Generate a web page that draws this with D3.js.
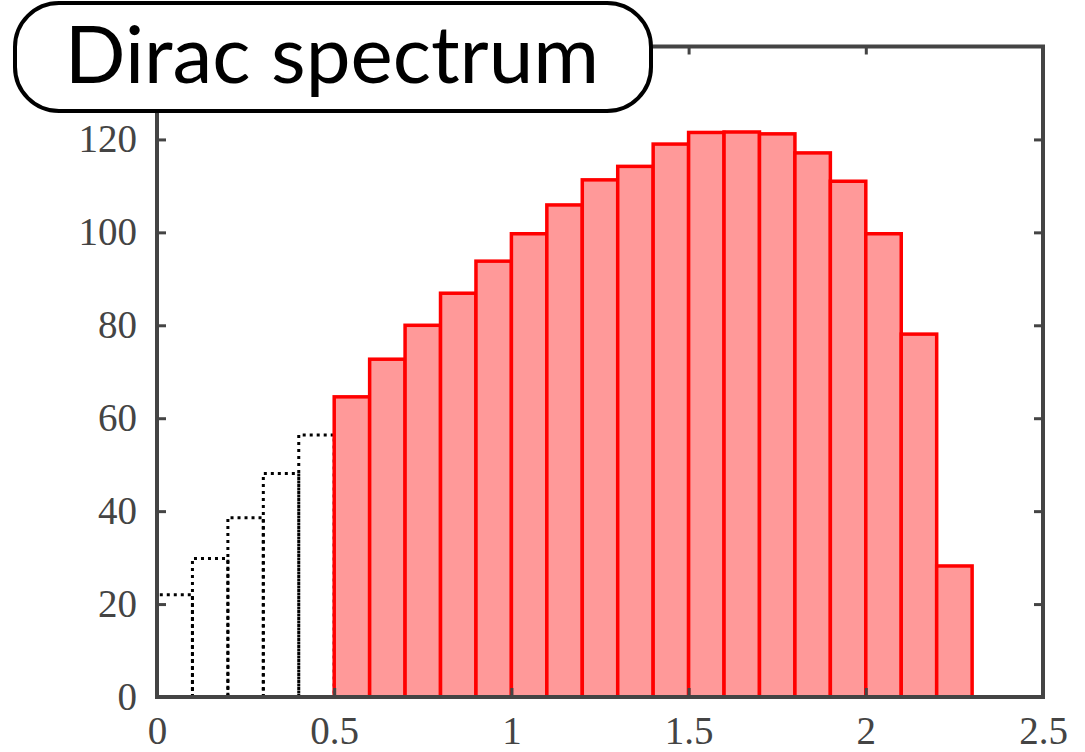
<!DOCTYPE html>
<html lang="en">
<head>
<meta charset="UTF-8">
<title>Dirac spectrum</title>
<style>
  body { margin: 0; background: #fff; }
</style>
<script src="https://cdn.jsdelivr.net/npm/d3@7"></script>
</head>
<body>
<script>
// bin edges (width 0.1) and counts
var binWidth = 0.1;
var dottedStarts = [0, 0.1, 0.2, 0.3, 0.4];
var dottedCounts = [22, 29.8, 38.6, 48.1, 56.4];
var redStarts = [0.5, 0.6, 0.7, 0.8, 0.9, 1.0, 1.1, 1.2, 1.3, 1.4, 1.5, 1.6, 1.7, 1.8, 1.9, 2.0, 2.1, 2.2];
var redCounts = [64.6, 72.7, 80, 86.9, 93.8, 99.7, 105.9, 111.3, 114.2, 119, 121.5, 121.6, 121.2, 117.1, 111, 99.7, 78.1, 28.2];
var xTicks = [0, 0.5, 1, 1.5, 2, 2.5];
var yTicks = [0, 20, 40, 60, 80, 100, 120];
var title = "Dirac spectrum";

var W = 1085, H = 752;
var mLeft = 157, mRight = 1043, mTop = 46.5, mBottom = 697;

var x = d3.scaleLinear().domain([0, 2.5]).range([mLeft, mRight]);
var y = d3.scaleLinear().domain([0, 140]).range([mBottom, mTop]);

var svg = d3.select("body").append("svg").attr("width", W).attr("height", H);

// dotted bars (open outline: left side, top, right side)
svg.append("g").selectAll("path")
  .data(dottedStarts.map(function(s, i) { return {s: s, v: dottedCounts[i]}; }))
  .enter().append("path")
  .attr("d", function(d) {
    var p = d3.path();
    p.moveTo(x(d.s), y(0));
    p.lineTo(x(d.s), y(d.v));
    p.lineTo(x(d.s + binWidth), y(d.v));
    p.lineTo(x(d.s + binWidth), y(0));
    return p.toString();
  })
  .attr("fill", "none")
  .attr("stroke", "#000")
  .attr("stroke-width", 3)
  .attr("stroke-dasharray", "3,4");

// red bars
svg.append("g").selectAll("rect")
  .data(redStarts.map(function(s, i) { return {s: s, v: redCounts[i]}; }))
  .enter().append("rect")
  .attr("x", function(d) { return x(d.s); })
  .attr("y", function(d) { return y(d.v); })
  .attr("width", function(d) { return x(d.s + binWidth) - x(d.s); })
  .attr("height", function(d) { return y(0) - y(d.v); })
  .attr("fill", "#ff9999")
  .attr("stroke", "#ff0000")
  .attr("stroke-width", 3.5);

// frame
svg.append("rect")
  .attr("x", mLeft).attr("y", mTop)
  .attr("width", mRight - mLeft).attr("height", mBottom - mTop)
  .attr("fill", "none").attr("stroke", "#444").attr("stroke-width", 4);

// axes
function styleAxis(g) {
  g.select(".domain").remove();
  g.selectAll(".tick line").attr("stroke", "#444").attr("stroke-width", 3);
  g.selectAll(".tick text")
    .style("font-family", "'Liberation Serif', 'DejaVu Serif', serif")
    .style("font-size", "39px")
    .attr("fill", "#444");
}
svg.append("g").attr("transform", "translate(0," + mBottom + ")")
  .call(d3.axisBottom(x).tickValues(xTicks).tickSize(-9).tickPadding(19).tickFormat(d3.format("")))
  .call(styleAxis);
svg.append("g").attr("transform", "translate(0," + mTop + ")")
  .call(d3.axisTop(x).tickValues(xTicks).tickSize(-8).tickFormat(""))
  .call(styleAxis);
svg.append("g").attr("transform", "translate(" + mLeft + ",0)")
  .call(d3.axisLeft(y).tickValues(yTicks).tickSize(-9).tickPadding(20))
  .call(styleAxis);
svg.append("g").attr("transform", "translate(" + mRight + ",0)")
  .call(d3.axisRight(y).tickValues(yTicks).tickSize(-9).tickFormat(""))
  .call(styleAxis);

// title box
svg.append("rect")
  .attr("x", 15).attr("y", 3).attr("width", 636).attr("height", 108)
  .attr("rx", 44).attr("ry", 44)
  .attr("fill", "#fff").attr("stroke", "#000").attr("stroke-width", 4);
svg.append("text")
  .attr("x", 332).attr("y", 83)
  .attr("text-anchor", "middle")
  .style("font-family", "Lato, 'Open Sans', sans-serif")
  .style("font-size", "80px")
  .attr("fill", "#000")
  .text(title);
</script>
</body>
</html>
